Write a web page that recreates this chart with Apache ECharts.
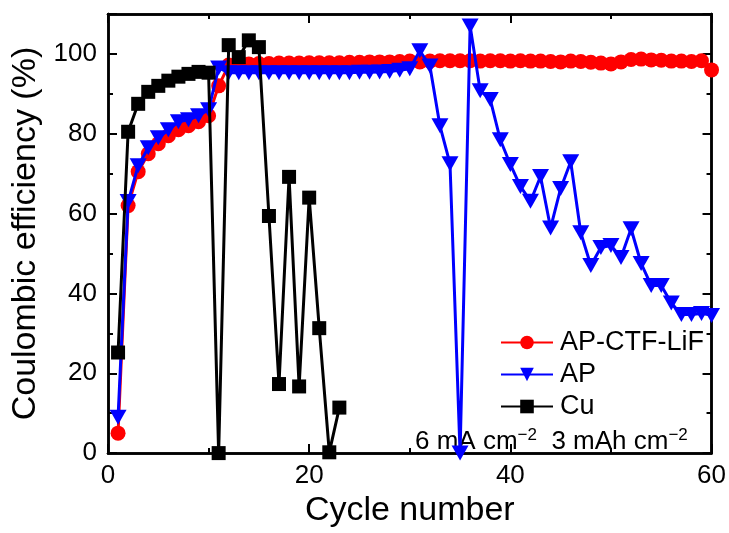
<!DOCTYPE html>
<html>
<head>
<meta charset="utf-8">
<script src="https://cdn.jsdelivr.net/npm/echarts@6/dist/echarts.min.js"></script>
<style>
html,body{margin:0;padding:0;background:#fff;}
#c{width:729px;height:533px;}
</style>
</head>
<body>
<div id="c"></div>
<script>
// ---- data ----
var seriesNames = ['AP-CTF-LiF', 'AP', 'Cu'];
var cyclesLong = [];
for (var i = 1; i <= 60; i++) cyclesLong.push(i);
var cyclesCu = [];
for (var j = 1; j <= 23; j++) cyclesCu.push(j);

var ctfValues = [5, 62, 70.5, 75, 77.5, 79.5, 81, 82, 83, 84.5,
  92, 97.2, 97.4, 97.5, 97.6, 97.6, 97.7, 97.7, 97.7, 97.8,
  97.8, 97.8, 97.8, 97.9, 97.9, 98, 98, 98, 98.1, 98.2,
  98, 98.2, 98.3, 98.3, 98.3, 98.3, 98.2, 98.3, 98.3, 98.2,
  98.3, 98.2, 98.2, 98.1, 98, 98.2, 98.1, 97.9, 97.7, 97.5,
  98, 98.6, 98.7, 98.5, 98.4, 98.2, 98.2, 98.1, 98.3, 96];

var apValues = [9, 63, 72, 76.5, 79, 81, 83, 83.5, 84.5, 86,
  96.5, 95.3, 95.3, 95.3, 95.3, 95.3, 95.3, 95.3, 95.3, 95.3,
  95.3, 95.3, 95.3, 95.3, 95.4, 95.4, 95.5, 95.6, 95.9, 96.3,
  100.8, 97, 82, 72.5, 0, 107, 90.8, 88.6, 78.5, 72.3,
  66.8, 63.1, 69.3, 56.4, 66.3, 73, 55.2, 47, 51.5, 52,
  49, 56.2, 47.5, 42, 42, 37.6, 34.7, 34.7, 35, 34.5];

var cuValues = [25.2, 80.5, 87.5, 90.5, 92, 93.3, 94.3, 95, 95.5, 95.3,
  0, 102.2, 99.2, 103.4, 101.7, 59.4, 17.3, 69.2, 16.7, 64,
  31.3, 0.2, 11.4];

var xTicks = [0, 20, 40, 60];
var yTicks = [0, 20, 40, 60, 80, 100];

function pairs(xs, ys) { return xs.map(function (x, k) { return [x, ys[k]]; }); }

var FONT = 'Liberation Sans, Arial, sans-serif';
var chart = echarts.init(document.getElementById('c'), null, {renderer: 'canvas'});

function xAx(pos, interval, major) {
  return {
    type: 'value', position: pos, min: 0, max: 60, interval: interval,
    axisLine: {show: true, onZero: false, lineStyle: {color: '#000', width: 2.5}},
    axisTick: {show: true, inside: true, length: major ? 9 : 5, lineStyle: {color: '#000', width: 2}},
    axisLabel: {show: major && pos === 'bottom', fontSize: 26, fontFamily: FONT, color: '#000', margin: 10,
      formatter: function (v) { return xTicks.indexOf(v) >= 0 ? String(v) : ''; }},
    splitLine: {show: false}
  };
}
function yAx(pos, interval, major) {
  return {
    type: 'value', position: pos, min: 0, max: 110, interval: interval,
    axisLine: {show: true, onZero: false, lineStyle: {color: '#000', width: 2.5}},
    axisTick: {show: true, inside: true, length: major ? 9 : 5, lineStyle: {color: '#000', width: 2}},
    axisLabel: {show: major && pos === 'left', fontSize: 26, fontFamily: FONT, color: '#000', margin: 11,
      formatter: function (v) { return yTicks.indexOf(v) >= 0 ? String(v) : ''; }},
    splitLine: {show: false}
  };
}

var xa0 = xAx('bottom', 20, true);
xa0.name = 'Cycle number';
xa0.nameLocation = 'middle';
xa0.nameGap = 40;
xa0.nameTextStyle = {fontSize: 34, fontFamily: FONT, color: '#000'};
var ya0 = yAx('left', 20, true);
ya0.name = 'Coulombic efficiency (%)';
ya0.nameLocation = 'middle';
ya0.nameGap = 57;
ya0.nameTextStyle = {fontSize: 34, fontFamily: FONT, color: '#000'};

var downTri = 'path://M0,0 L20,0 L10,17 Z';

chart.setOption({
  animation: false,
  backgroundColor: '#fff',
  grid: {left: 108, right: 17, top: 14, bottom: 73, containLabel: false},
  xAxis: [xa0, xAx('bottom', 10, false), xAx('top', 20, true), xAx('top', 10, false)],
  yAxis: [ya0, yAx('left', 10, false), yAx('right', 20, true), yAx('right', 10, false)],
  legend: {
    orient: 'vertical', left: 495, top: 324,
    itemWidth: 52, itemHeight: 17, itemGap: 5, itemSymbolKeepAspect: true,
    textStyle: {fontSize: 27, fontFamily: FONT, color: '#000', padding: [0, 0, 0, 2]},
    data: seriesNames
  },
  graphic: [{
    type: 'text', left: 415, top: 427,
    style: {
      text: '{a|6 mA cm}{s|\u22122}{a|  3 mAh cm}{s|\u22122}',
      rich: {
        a: {fontSize: 26, fontFamily: FONT, fill: '#000', lineHeight: 30, verticalAlign: 'middle'},
        s: {fontSize: 17, fontFamily: FONT, fill: '#000', lineHeight: 30, verticalAlign: 'top'}
      }
    }
  }],
  series: [
    {
      name: seriesNames[0], type: 'line', data: pairs(cyclesLong, ctfValues),
      symbol: 'circle', symbolSize: 15, color: '#ff0000',
      lineStyle: {color: '#ff0000', width: 3}, itemStyle: {color: '#ff0000'}, z: 3
    },
    {
      name: seriesNames[1], type: 'line', data: pairs(cyclesLong, apValues),
      symbol: downTri, symbolSize: [17, 15], color: '#0000ff',
      lineStyle: {color: '#0000ff', width: 3}, itemStyle: {color: '#0000ff'}, z: 4
    },
    {
      name: seriesNames[2], type: 'line', data: pairs(cyclesCu, cuValues),
      symbol: 'rect', symbolSize: 14, color: '#000',
      lineStyle: {color: '#000', width: 3}, itemStyle: {color: '#000'}, z: 5
    }
  ]
});
</script>
</body>
</html>
